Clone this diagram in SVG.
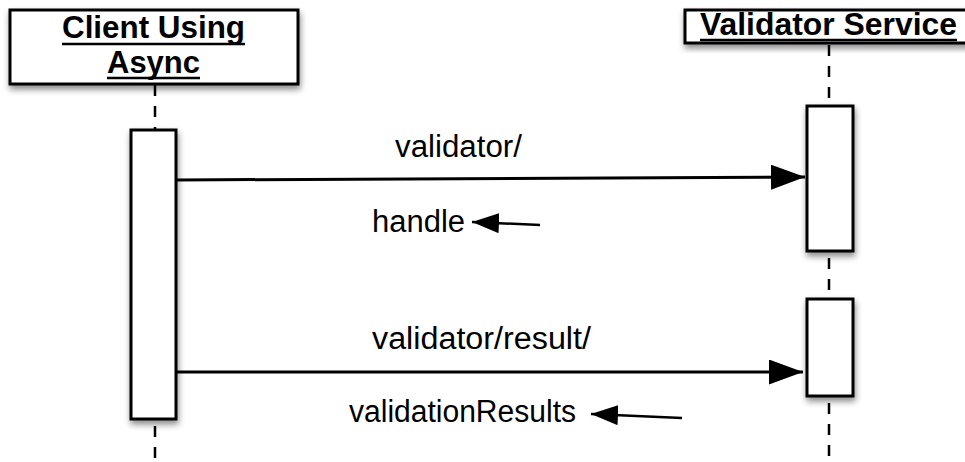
<svg xmlns="http://www.w3.org/2000/svg" width="965" height="462" viewBox="0 0 965 462">
<style>
.box{fill:#fff;stroke:#000;stroke-width:3;filter:url(#sh)}
.life{stroke:#000;stroke-width:2.5;stroke-dasharray:11 10;fill:none}
.hdr{font-family:"Liberation Sans",Arial,sans-serif;font-weight:bold;font-size:31px;fill:#000}
.lbl{font-family:"Liberation Sans",Arial,sans-serif;font-size:31px;fill:#000}
.ul{stroke:#000;stroke-width:2.5}
.msg{stroke:#000;stroke-width:3;fill:none;marker-end:url(#big)}
.ret{stroke:#000;stroke-width:2.5;fill:none;marker-end:url(#small)}
</style>
<defs>
<filter id="sh" x="-20%" y="-20%" width="150%" height="150%">
<feDropShadow dx="1" dy="4" stdDeviation="3" flood-color="#000" flood-opacity="0.45"/>
</filter>
<marker id="big" viewBox="0 0 34 25" refX="34" refY="12.5" markerWidth="34" markerHeight="25" markerUnits="userSpaceOnUse" orient="auto">
<path d="M0,0 L34,12.5 L0,25 z" fill="#000"/>
</marker>
<marker id="small" viewBox="0 0 27 20" refX="27" refY="10" markerWidth="27" markerHeight="20" markerUnits="userSpaceOnUse" orient="auto">
<path d="M0,0 L27,10 L0,20 z" fill="#000"/>
</marker>
</defs>

<g id="lifelines">
<line class="life" x1="155" y1="85" x2="155" y2="130"/>
<line class="life" x1="155" y1="426" x2="155" y2="462"/>
<line class="life" x1="829" y1="45" x2="829" y2="106"/>
<line class="life" x1="829" y1="258" x2="829" y2="299"/>
<line class="life" x1="829" y1="403" x2="829" y2="462"/>
</g>

<g id="client">
<rect class="box" x="10" y="10" width="288" height="74"/>
<text class="hdr" x="62" y="38" textLength="183" lengthAdjust="spacingAndGlyphs">Client Using</text>
<line class="ul" x1="62" y1="44" x2="245" y2="44"/>
<text class="hdr" x="107" y="73" textLength="93" lengthAdjust="spacingAndGlyphs">Async</text>
<line class="ul" x1="107" y1="78" x2="200" y2="78"/>
</g>

<g id="validator">
<rect class="box" x="685" y="10" width="290" height="33"/>
<text class="hdr" x="700" y="35" textLength="257" lengthAdjust="spacingAndGlyphs">Validator Service</text>
<line class="ul" x1="700" y1="40" x2="957" y2="40"/>
</g>

<g id="client-activation">
<rect class="box" x="131" y="130" width="45" height="289"/>
</g>
<g id="validator-activation-1">
<rect class="box" x="807" y="106" width="46" height="145"/>
</g>
<g id="validator-activation-2">
<rect class="box" x="807" y="299" width="46" height="97"/>
</g>

<g id="connectors">
<line class="msg" x1="177" y1="180" x2="805" y2="177"/>
<line class="msg" x1="177" y1="372" x2="803" y2="372"/>
<line class="ret" x1="540" y1="225" x2="472" y2="222"/>
<line class="ret" x1="682" y1="418" x2="591" y2="414"/>
</g>

<g id="labels">
<text class="lbl" x="395" y="157" textLength="127" lengthAdjust="spacingAndGlyphs">validator/</text>
<text class="lbl" x="372" y="232" textLength="93" lengthAdjust="spacingAndGlyphs">handle</text>
<text class="lbl" x="372" y="349" textLength="219" lengthAdjust="spacingAndGlyphs">validator/result/</text>
<text class="lbl" x="349" y="422" textLength="227" lengthAdjust="spacingAndGlyphs">validationResults</text>
</g>
</svg>
